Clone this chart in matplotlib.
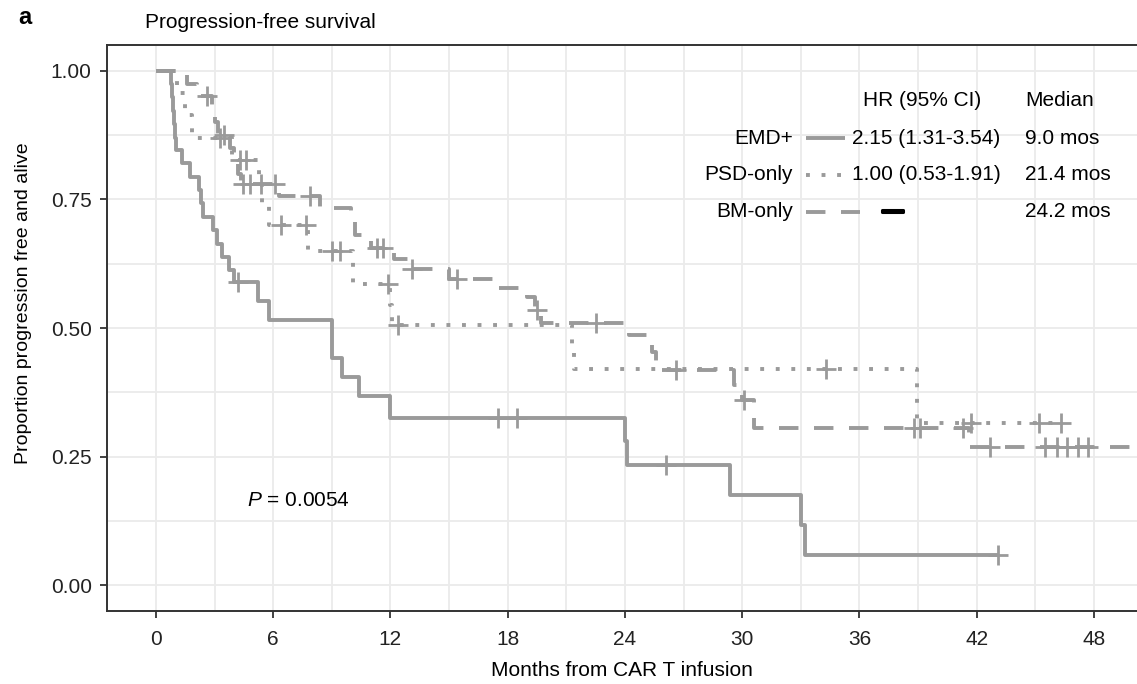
import numpy as np
import matplotlib
matplotlib.use('Agg')
import matplotlib.pyplot as plt
import matplotlib.patheffects as pe
from matplotlib.lines import Line2D
from matplotlib.ticker import MultipleLocator

plt.rcParams['font.family'] = ['Liberation Sans', 'DejaVu Sans']
plt.rcParams['mathtext.fontset'] = 'custom'
plt.rcParams['mathtext.rm'] = 'Liberation Sans'
plt.rcParams['mathtext.it'] = 'Liberation Sans:italic'

# Kaplan-Meier steps: event time -> survival after the event, last entry = end of follow-up
emd_time = [0, 0.76, 0.84, 0.90, 0.95, 1.00, 1.05, 1.35, 1.77, 2.2, 2.3, 2.4, 2.93, 3.15,
            3.4, 3.75, 4.0, 5.25, 5.8, 9.0, 9.5, 10.4, 12.0, 24.0, 24.1, 29.4, 33.0, 33.2, 43.1]
emd_surv = [1.0, 0.974, 0.948, 0.922, 0.896, 0.870, 0.845, 0.820, 0.794, 0.768, 0.742, 0.716,
            0.690, 0.664, 0.638, 0.613, 0.589, 0.552, 0.515, 0.441, 0.404, 0.367, 0.326,
            0.280, 0.233, 0.175, 0.117, 0.058, 0.058]
emd_cens = [4.2, 17.5, 18.5, 26.1, 43.1]

psd_time = [0, 1.1, 1.5, 1.85, 3.9, 5.3, 5.45, 5.8, 7.8, 10.1, 12.0, 12.1, 21.3, 21.4,
            38.95, 46.3]
psd_surv = [1.0, 0.957, 0.913, 0.870, 0.826, 0.780, 0.740, 0.700, 0.650, 0.585, 0.545,
            0.506, 0.463, 0.420, 0.315, 0.315]
psd_cens = [3.3, 4.3, 4.6, 6.4, 7.7, 9.0, 9.4, 11.9, 12.4, 34.3, 41.7, 45.2, 46.3]

bm_time = [0, 1.6, 2.1, 2.85, 3.0, 3.2, 3.8, 4.0, 4.2, 4.35, 6.3, 8.4, 10.0, 10.2, 11.0,
           12.2, 13.0, 15.0, 17.4, 19.0, 19.4, 19.7, 24.2, 25.4, 25.6, 29.6, 30.0, 30.6,
           41.6, 50.0]
bm_surv = [1.0, 0.975, 0.950, 0.925, 0.900, 0.875, 0.850, 0.825, 0.800, 0.780, 0.757,
           0.733, 0.707, 0.680, 0.655, 0.635, 0.615, 0.596, 0.578, 0.560, 0.535, 0.510,
           0.487, 0.453, 0.419, 0.390, 0.360, 0.306, 0.269, 0.269]
bm_cens = [2.6, 3.5, 4.45, 4.8, 5.4, 6.1, 7.9, 11.3, 11.6, 13.1, 15.4, 19.5, 22.5, 26.6,
           30.1, 38.8, 39.1, 41.3, 42.7, 45.5, 46.1, 46.6, 47.2, 47.7]

groups = ['EMD+', 'PSD-only', 'BM-only']
hr_ci = ['2.15 (1.31-3.54)', '1.00 (0.53-1.91)', '\u2014']
median_mos = [9.0, 21.4, 24.2]
p_value = 0.0054

GREY = '#9a9a9a'
styles = ['-', (0, (1, 3)), (0, (5, 4))]
curves = [(emd_time, emd_surv, emd_cens), (psd_time, psd_surv, psd_cens),
          (bm_time, bm_surv, bm_cens)]

W, H = 1137, 684
fig = plt.figure(figsize=(W / 100, H / 100), dpi=100)
ax = fig.add_axes([107 / W, (H - 611) / H, (1182 - 107) / W, (611 - 45) / H])


def px(x, y):
    return x / W, 1 - y / H


for (t, s, c), ls in zip(curves, styles):
    ax.plot(t, s, drawstyle='steps-post', color=GREY, lw=2.8, ls=ls,
            dash_capstyle='butt', solid_capstyle='butt', zorder=3)
    idx = np.searchsorted(t, c, side='right') - 1
    ax.plot(c, np.asarray(s)[idx], ls='none', marker='+', ms=14, mew=2.0,
            color=GREY, zorder=4)

ax.set_xlim(-2.5, 52.5)
ax.set_ylim(-0.05, 1.05)
ax.set_xticks(np.arange(0, 49, 6))
ax.set_yticks([0, 0.25, 0.5, 0.75, 1.0])
ax.set_yticklabels(['0.00', '0.25', '0.50', '0.75', '1.00'])
ax.xaxis.set_minor_locator(MultipleLocator(3))
ax.yaxis.set_minor_locator(MultipleLocator(0.125))
ax.grid(True, which='both', color='#ebebeb', lw=1.3, zorder=0)
ax.set_axisbelow(True)
ax.tick_params(which='major', length=5, width=1.3, color='#333333',
               labelsize=15, labelcolor='#222222')
ax.tick_params(axis='x', pad=9)
ax.tick_params(axis='y', pad=6)
ax.tick_params(which='minor', length=0)
for sp in ax.spines.values():
    sp.set_color('#333333')
    sp.set_linewidth(1.4)

ax.text(4.65, 0.164, r'$P$ = ' + f'{p_value:.4f}', fontsize=15, va='center', ha='left')

# labels and titles
fig.text(*px(18, 18), 'a', fontsize=17, fontweight='bold', va='center', ha='left')
fig.text(*px(145, 22), 'Progression-free survival', fontsize=15, va='center', ha='left')
fig.text(*px(622, 671), 'Months from CAR T infusion', fontsize=15, va='center', ha='center')
fig.text(*px(24, 303), 'Proportion progression free and alive', fontsize=14,
         rotation=90, va='center', ha='center')

# legend table
fig.text(*px(863, 101), 'HR (95% CI)', fontsize=15, va='center', ha='left')
fig.text(*px(1025, 101), 'Median', fontsize=15, va='center', ha='left')
row_y = [138, 175, 212]
sample_end = [845, 845, 860]
for name, hr, med, ls, yy, xe in zip(groups, hr_ci, median_mos, styles, row_y, sample_end):
    fig.text(*px(793, yy), name, fontsize=15, va='center', ha='right')
    x0, y0 = px(806, yy)
    x1, _ = px(xe, yy)
    fig.add_artist(Line2D([x0, x1], [y0, y0], transform=fig.transFigure, color=GREY,
                          lw=2.8, ls=ls, dash_capstyle='butt', solid_capstyle='butt'))
    if hr == '\u2014':
        fig.text(*px(882, yy - 1), hr, fontsize=15, fontweight='bold', va='center', ha='left',
                 path_effects=[pe.withStroke(linewidth=2.2, foreground='black')])
    else:
        fig.text(*px(852, yy), hr, fontsize=15, va='center', ha='left')
    fig.text(*px(1025, yy), f'{med:.1f} mos', fontsize=15, va='center', ha='left')

fig.savefig('out.png', dpi=100)
